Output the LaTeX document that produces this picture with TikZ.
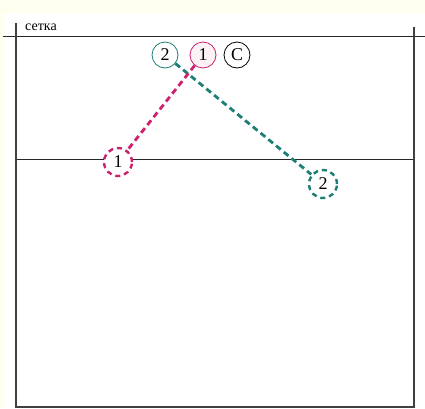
\documentclass[tikz,border=0pt]{standalone}
\usepackage{fontspec}
\setmainfont{Liberation Serif}
\begin{document}
\begin{tikzpicture}[x=1pt,y=-1pt,
  court/.style={line width=1.6pt,draw=black!75},
  thinline/.style={line width=1pt,draw=black!85},
  player/.style={circle,draw,line width=0.8pt,inner sep=0pt,minimum size=26pt,font=\fontsize{18}{18}\selectfont},
  ghost/.style={circle,draw,dashed,line width=2.4pt,dash pattern=on 5pt off 4pt,inner sep=0pt,minimum size=28pt,font=\fontsize{18}{18}\selectfont},
  move/.style={dashed,line width=2.8pt,dash pattern=on 6pt off 4pt},
]
\definecolor{pinkc}{HTML}{CC2070}
\definecolor{tealc}{HTML}{1C7E74}
\definecolor{cream}{HTML}{FFFFF0}
\useasboundingbox (0,0) rectangle (425,408);
\fill[cream] (0,0) rectangle (425,408);
\fill[white] (3,13) rectangle (425,408);
% court
\draw[thinline] (3,36) -- (425,36);
\draw[thinline] (16,159) -- (414,159);
\draw[court] (16,23) -- (16,407) -- (414,407) -- (414,27);
\node[font=\fontsize{14}{14}\selectfont,anchor=base west,inner sep=0pt] (net) at (25,30) {сетка};
% players
\node[player,draw=tealc] (t2) at (165,55) {2};
\node[player,draw=pinkc,fill=pinkc!6] (p1) at (203,55) {1};
\node[player,draw=black] (c) at (237,55) {C};
\node[ghost,draw=pinkc,fill=white] (d1) at (118,162) {1};
\node[ghost,draw=tealc,fill=white] (d2) at (323,184) {2};
% movements
\draw[move,tealc] (t2) -- (d2);
\draw[move,pinkc] (p1) -- (d1);
\end{tikzpicture}
\end{document}
